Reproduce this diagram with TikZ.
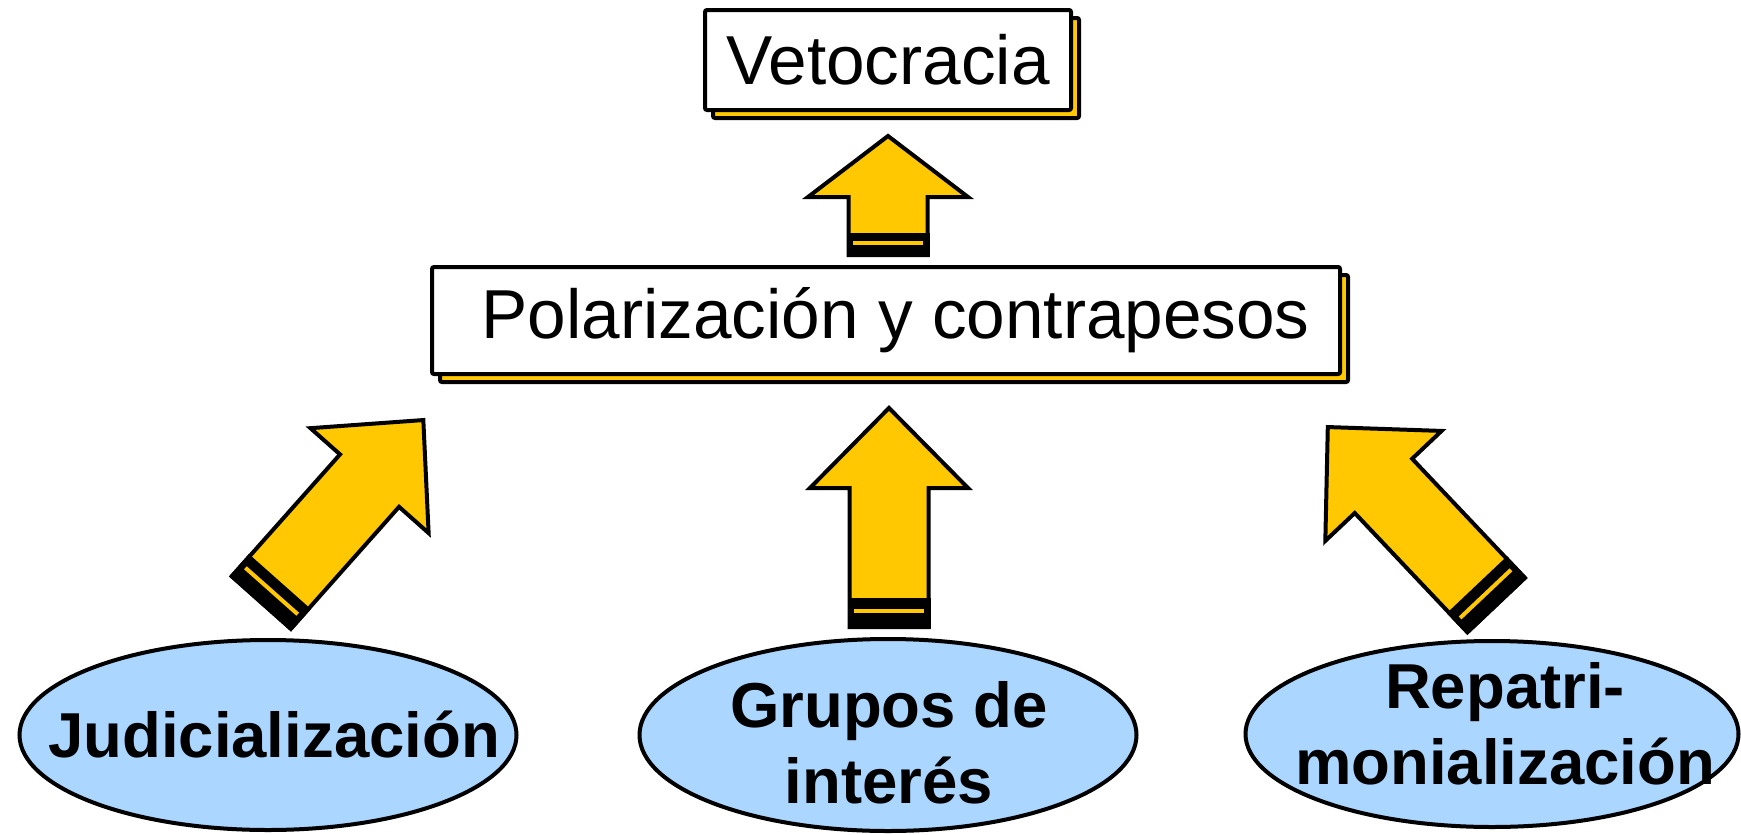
\documentclass[tikz,border=0pt]{standalone}
\usepackage{fontspec}
\setmainfont{Liberation Sans}
\usepackage{xcolor}
\usepackage{tikz}
\usetikzlibrary{positioning, shapes.geometric, shadows}

\definecolor{amarillo}{RGB}{255,200,0}
\definecolor{celeste}{RGB}{170,214,255}

\tikzset{
    pics/flecha/.style args={#1/#2/#3/#4}{code={
        \filldraw[fill=amarillo, draw=black, line width=4pt, line join=miter]
            (-39.5,-2) -- (-39.5,-#1+#2) -- (-#3+5,-#1+#2) -- (0,-#1+3)
            -- (#3-5,-#1+#2) -- (39.5,-#1+#2) -- (39.5,-2) -- cycle;
        \fill[black] (-41.5,0) rectangle (41.5,-#4);
        \fill[amarillo] (-35,-0.58*#4+2) rectangle (35,-0.58*#4-2);
    }}
}

\begin{document}
\begin{tikzpicture}[
    x=1pt, y=-1pt,
    caja/.style={rectangle, draw=black, fill=white, line width=4pt, rounded corners=2pt,
        general shadow={shadow xshift=8pt, shadow yshift=-8pt, fill=amarillo, draw=black, line width=4pt},
        font=\fontsize{69.3}{82}\selectfont},
    ovalo/.style={ellipse, draw=black, fill=celeste, line width=4pt, minimum width=497pt, minimum height=190pt},
    textoovalo/.style={align=center, font=\fontsize{63.5}{76}\selectfont\bfseries}
]
    \useasboundingbox (0,0) rectangle (1741,835);

    \node[caja, minimum width=366pt, minimum height=100pt] (veto) at (888,60) {Vetocracia};
    \node[caja, minimum width=908pt, minimum height=107pt] (polar) at (886,320.5) {~Polarización y contrapesos};

    \node[ovalo] (judic) at (268,735) {};
    \node[ovalo, minimum height=192pt] (grupos) at (888,735) {};
    \node[ovalo, minimum width=493pt, minimum height=186pt] (repat) at (1492,734) {};

    \node[textoovalo] (tjudic) at (274,735) {Judicialización};
    \node[textoovalo] (tgrupos) at (889,743) {Grupos de\\interés};
    \node[textoovalo] (trepat) at (1505,724) {Repatri-\\monialización};

    % Flechas
    \coordinate (bveto) at (888,257);
    \coordinate (bgrupos) at (889,629);
    \coordinate (bjudic) at (260,604);
    \coordinate (brepat) at (1497.5,606.5);

    \pic at (bveto) {flecha=124/64/85/24};
    \pic at (bgrupos) {flecha=224/83/84/31};
    \pic[rotate=-41.6] at (bjudic) {flecha=249/84/84/30};
    \pic[rotate=43.4] at (brepat) {flecha=250/84/85/30};

\end{tikzpicture}
\end{document}
